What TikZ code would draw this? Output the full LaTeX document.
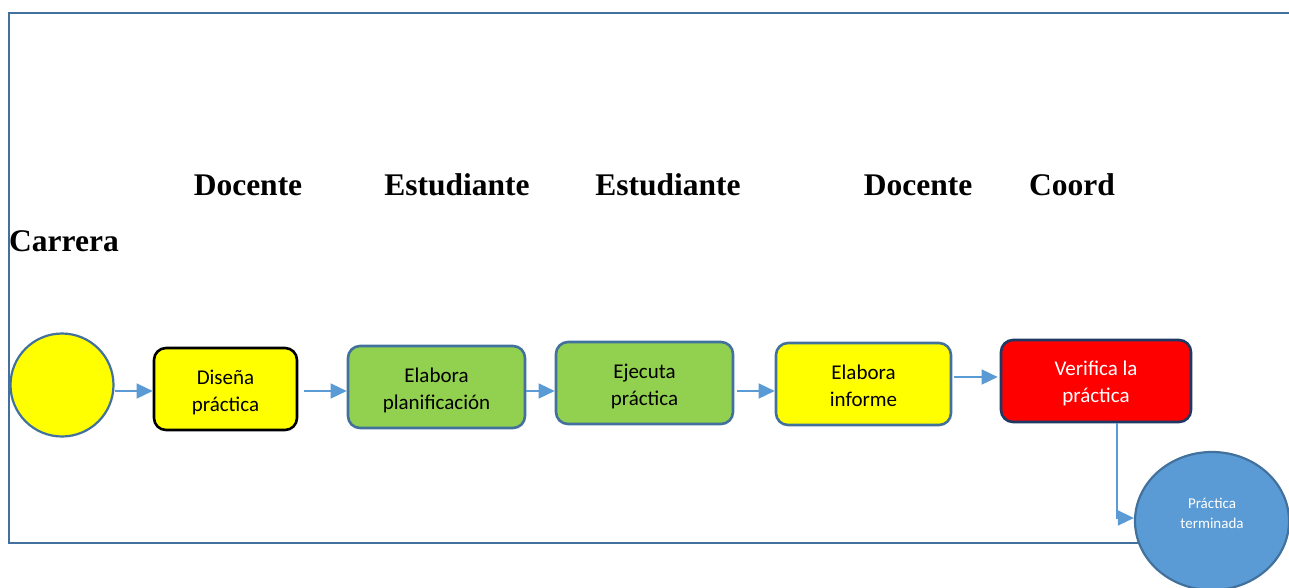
\documentclass[tikz,border=0pt]{standalone}
\usepackage{fontspec}
\setmainfont{Liberation Serif}
\newfontfamily\carl{Carlito}
\usetikzlibrary{shapes.geometric,arrows.meta}
\definecolor{frameblue}{HTML}{41719C}
\definecolor{arrowblue}{HTML}{5B9BD5}
\definecolor{boxgreen}{HTML}{92D050}
\definecolor{navy}{HTML}{203864}
\definecolor{pureyellow}{HTML}{FFFF00}
\tikzset{
  heading/.style={font=\fontsize{31.5}{36}\selectfont\bfseries, inner sep=0pt},
  procbox/.style={rounded corners=12pt, line width=2.6pt, draw=frameblue, inner sep=0pt},
  boxtext/.style={align=center, font=\carl\fontsize{21}{27}\selectfont, inner sep=0pt},
  flow/.style={draw=arrowblue, line width=1.4pt, -{Triangle[length=16pt,width=15pt]}},
}
\begin{document}
\begin{tikzpicture}[x=1pt,y=-1pt]
\useasboundingbox (0,0) rectangle (1289,587);
% frame
\draw[frameblue, line width=2.6pt] (1289,13) -- (9,13) -- (9,543) -- (1145,543);
% headings
\node[heading] (h1) at (248,185) {Docente};
\node[heading] (h2) at (457,185) {Estudiante};
\node[heading] (h3) at (668,185) {Estudiante};
\node[heading] (h4) at (918,185) {Docente};
\node[heading] (h5) at (1072,185) {Coord};
\node[heading, anchor=west] (h6) at (9,241) {Carrera};
% start
\node[circle, draw=frameblue, line width=2.2pt, fill=pureyellow, minimum size=103pt, inner sep=0pt] (start) at (62,385) {};
% boxes
\node[procbox, draw=black, fill=pureyellow, minimum width=143pt, minimum height=82pt] (b1) at (225.5,389) {};
\node[boxtext] (b1t) at ([yshift=-3pt]b1.center) {Diseña\\práctica};
\node[procbox, fill=boxgreen, minimum width=177pt, minimum height=82pt] (b2) at (436.5,387) {};
\node[boxtext] (b2t) at ([yshift=-3pt]b2.center) {Elabora\\planificación};
\node[procbox, fill=boxgreen, minimum width=177pt, minimum height=82pt] (b3) at (644.5,383) {};
\node[boxtext] (b3t) at ([yshift=-3pt]b3.center) {Ejecuta\\práctica};
\node[procbox, fill=pureyellow, minimum width=175pt, minimum height=82pt] (b4) at (863.5,384) {};
\node[boxtext] (b4t) at ([yshift=-2pt]b4.center) {Elabora\\informe};
\node[procbox, draw=navy, fill=red, minimum width=190pt, minimum height=82pt] (b5) at (1096,381) {};
\node[boxtext, text=white] (b5t) at ([yshift=-2pt]b5.center) {Verifica la\\práctica};
% end
\node[ellipse, draw=frameblue, line width=2.2pt, fill=arrowblue, minimum width=154pt, minimum height=138pt,
  inner sep=0pt] (pt) at (1212,521) {};
\node[align=center, text=white, font=\carl\fontsize{15}{20}\selectfont, inner sep=0pt] (ptt) at ([yshift=8pt]pt.center) {Práctica\\terminada};
% connectors
\draw[flow] ([yshift=-6pt]start.east) -- ([yshift=-2pt]b1.west);
\draw[flow] ([xshift=6pt,yshift=-2pt]b1.east) -- ([yshift=-4pt]b2.west);
\draw[flow] ([yshift=-4pt]b2.east) -- ([yshift=-8pt]b3.west);
\draw[flow] ([xshift=3pt,yshift=-8pt]b3.east) -- ([yshift=-7pt]b4.west);
\draw[flow] ([xshift=2pt,yshift=7pt]b4.east) -- ([xshift=-2pt,yshift=4pt]b5.west);
\draw[flow] ([xshift=21pt]b5.south) |- ([yshift=3pt]pt.west);
\end{tikzpicture}
\end{document}
